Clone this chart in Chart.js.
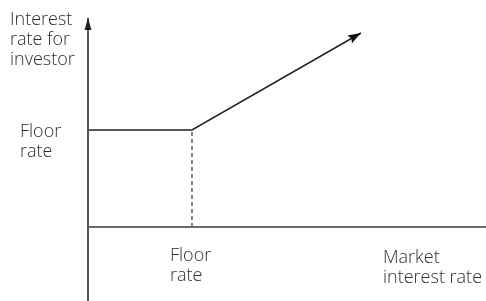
<!DOCTYPE html>
<html>
<head>
<meta charset="utf-8">
<script src="https://cdn.jsdelivr.net/npm/chart.js@4"></script>
<style>
html,body{margin:0;padding:0;background:#fff;}
canvas{display:block;}
</style>
</head>
<body>
<canvas id="c" width="486" height="301"></canvas>
<script>
// ---- data (arbitrary units: floor rate = 4) ----
const floorRate = 4;
const payoffX = [0, 4, 10.5];      // market interest rate
const payoffY = [4, 4, 8];         // interest rate for investor
const yAxisTop = 8.62;
const yAxisLabel = ['Interest', 'rate for', 'investor'];
const floorLabel = ['Floor', 'rate'];
const xAxisLabel = ['Market', 'interest rate'];

const xMin = -3.385, xMax = 15.31;
const yMin = -3.05, yMax = 9.36;

const pts = (xs, ys) => xs.map((x, i) => ({x, y: ys[i]}));

const arrowPlugin = {
  id: 'arrows',
  afterDatasetsDraw(chart) {
    const ctx = chart.ctx;
    chart.data.datasets.forEach((ds, i) => {
      if (!ds.arrow) return;
      const meta = chart.getDatasetMeta(i);
      const n = meta.data.length;
      const p1 = meta.data[n - 2], p2 = meta.data[n - 1];
      const ang = Math.atan2(p2.y - p1.y, p2.x - p1.x);
      const L = ds.arrow.len, W = ds.arrow.w;
      ctx.save();
      ctx.translate(p2.x, p2.y);
      ctx.rotate(ang);
      ctx.beginPath();
      ctx.moveTo(0, 0);
      ctx.lineTo(-L, -W / 2);
      ctx.lineTo(-L * ds.arrow.notch, 0);
      ctx.lineTo(-L, W / 2);
      ctx.closePath();
      ctx.fillStyle = ds.arrow.color;
      ctx.fill();
      ctx.restore();
    });
  }
};

const labelPlugin = {
  id: 'labels',
  afterDraw(chart) {
    const ctx = chart.ctx;
    const xs = chart.scales.x, ys = chart.scales.y;
    const x0 = xs.getPixelForValue(0), y0 = ys.getPixelForValue(0);
    const fx = xs.getPixelForValue(floorRate), fy = ys.getPixelForValue(floorRate);
    const yt = ys.getPixelForValue(yAxisTop);
    ctx.save();
    ctx.font = '300 18px "Open Sans", "Noto Sans", sans-serif';
    ctx.fillStyle = '#2e2e2e';
    ctx.textAlign = 'left';
    ctx.textBaseline = 'alphabetic';
    const lh = 20;
    yAxisLabel.forEach((t, i) => ctx.fillText(t, x0 - 78, yt + 7 + i * lh));
    floorLabel.forEach((t, i) => ctx.fillText(t, x0 - 68, fy + 7 + i * lh));
    floorLabel.forEach((t, i) => ctx.fillText(t, fx - 22, y0 + 34 + i * lh));
    xAxisLabel.forEach((t, i) => ctx.fillText(t, x0 + 295, y0 + 35.5 + i * lh));
    ctx.restore();
  }
};

new Chart(document.getElementById('c'), {
  type: 'scatter',
  data: {
    datasets: [
      { // y axis
        data: pts([0, 0], [yMin, yAxisTop]),
        showLine: true, borderColor: '#555', borderWidth: 2, pointRadius: 0,
        arrow: {len: 12, w: 7, notch: 1, color: '#222'}
      },
      { // x axis
        data: pts([0, xMax], [0, 0]),
        showLine: true, borderColor: '#6b6b6b', borderWidth: 2.2, pointRadius: 0
      },
      { // dashed drop line
        data: pts([floorRate, floorRate], [0, floorRate]),
        showLine: true, borderColor: '#333', borderWidth: 1.2, borderDash: [4, 3], pointRadius: 0
      },
      { // payoff
        data: pts(payoffX, payoffY),
        showLine: true, borderColor: '#222', borderWidth: 1.5, pointRadius: 0, tension: 0,
        arrow: {len: 13, w: 9, notch: 0.85, color: '#111'}
      }
    ]
  },
  options: {
    responsive: false,
    animation: false,
    layout: {padding: 0},
    plugins: {legend: {display: false}, tooltip: {enabled: false}, title: {display: false}},
    scales: {
      x: {type: 'linear', display: false, min: xMin, max: xMax},
      y: {type: 'linear', display: false, min: yMin, max: yMax}
    }
  },
  plugins: [arrowPlugin, labelPlugin]
});
</script>
</body>
</html>
